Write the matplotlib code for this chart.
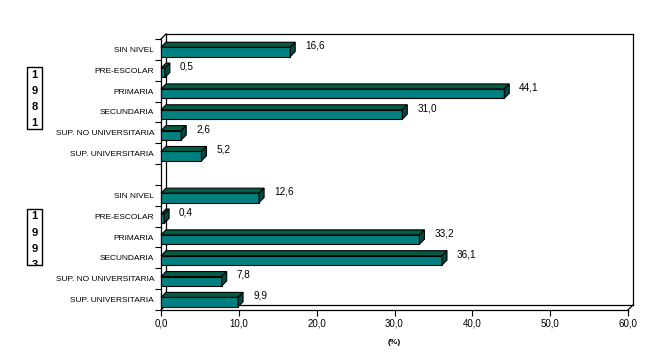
import matplotlib
matplotlib.use("Agg")
import matplotlib.pyplot as plt
from matplotlib.patches import Polygon, Rectangle
from matplotlib.lines import Line2D

categories = ["SIN NIVEL", "PRE-ESCOLAR", "PRIMARIA", "SECUNDARIA",
              "SUP. NO UNIVERSITARIA", "SUP. UNIVERSITARIA"]
years = ["1981", "1993"]
values_1981 = [16.6, 0.5, 44.1, 31.0, 2.6, 5.2]
values_1993 = [12.6, 0.4, 33.2, 36.1, 7.8, 9.9]
x_ticks = [0, 10, 20, 30, 40, 50, 60]
x_label = "(%)"

W, H = 658, 357
fig = plt.figure(figsize=(W / 100, H / 100), dpi=100)
plt.rcParams['font.family'] = ['Liberation Sans', 'DejaVu Sans']

def fx(x):
    return x / W

def fy(y):
    return 1 - y / H

# front plane of the axes in pixels
L, R, T, B = 161, 628, 39, 310
ax = fig.add_axes([fx(L), fy(B), fx(R) - fx(L), fy(T) - fy(B)])
nslots = 13
ax.set_xlim(0, 60)
ax.set_ylim(nslots - 0.5, -0.5)
for s in ax.spines.values():
    s.set_visible(False)

px_x = (R - L) / 60.0
px_y = (B - T) / nslots
DPX = 5
dx = DPX / px_x
dy = DPX / px_y

front = "#008080"
topc = "#005c44"
sidec = "#004a40"

slots, labels, vals = [], [], []
for i, v in enumerate(values_1981):
    slots.append(i); labels.append(categories[i]); vals.append(v)
for i, v in enumerate(values_1993):
    slots.append(7 + i); labels.append(categories[i]); vals.append(v)

bh = 0.45
for s, v in zip(slots, vals):
    yc = s + 0.12
    y0, y1 = yc - bh / 2, yc + bh / 2  # y0 is upper edge (inverted axis)
    ax.add_patch(Rectangle((0, y0), v, bh, facecolor=front, edgecolor="black",
                           lw=0.8, clip_on=False, zorder=3))
    ax.add_patch(Polygon([(0, y0), (v, y0), (v + dx, y0 - dy), (dx, y0 - dy)],
                         closed=True, facecolor=topc, edgecolor="black",
                         lw=0.8, clip_on=False, zorder=3))
    ax.add_patch(Polygon([(v, y0), (v + dx, y0 - dy), (v + dx, y1 - dy), (v, y1)],
                         closed=True, facecolor=sidec, edgecolor="black",
                         lw=0.8, clip_on=False, zorder=3))
    ax.text(v + 15 / px_x, yc - 0.3, f"{v:.1f}".replace(".", ","),
            fontsize=7.2, ha="left", va="center", zorder=4)

# frame: back wall, floor, left wall
ymin, ymax = -0.5, nslots - 0.5
kw = dict(color="black", lw=0.9, clip_on=False, zorder=2)
ax.add_line(Line2D([dx, dx], [ymin - dy, ymax - dy], **kw))
ax.add_line(Line2D([dx, 60 + dx], [ymin - dy, ymin - dy], **kw))
ax.add_line(Line2D([60 + dx, 60 + dx], [ymin - dy, ymax - dy], **kw))
ax.add_line(Line2D([dx, 60 + dx], [ymax - dy, ymax - dy], **kw))
ax.add_line(Line2D([0, 0], [ymin, ymax], **kw))
ax.add_line(Line2D([0, 60], [ymax, ymax], **kw))
ax.add_line(Line2D([0, dx], [ymin, ymin - dy], **kw))
ax.add_line(Line2D([0, dx], [ymax, ymax - dy], **kw))
ax.add_line(Line2D([60, 60 + dx], [ymax, ymax - dy], **kw))

ax.set_xticks(x_ticks)
ax.set_xticklabels([f"{t:.1f}".replace(".", ",") for t in x_ticks], fontsize=7)
ax.tick_params(axis="x", direction="out", length=4, width=0.8, pad=2)
ax.set_yticks(slots)
ax.set_yticklabels(labels, fontsize=6)
ax.tick_params(axis="y", length=0, pad=5)
ax.set_yticks([k - 0.5 for k in range(nslots + 1)], minor=True)
ax.tick_params(axis="y", which="minor", direction="out", length=4, width=0.8)
ax.set_xlabel(x_label, fontsize=6, fontweight="bold", labelpad=8)

# year boxes
boxes = [(27, 67, 15, 62), (27, 209, 15, 56)]
for yr, (bx, by, bw, bhh) in zip(years, boxes):
    rect = Rectangle((fx(bx), fy(by + bhh)), fx(bw), fy(by) - fy(by + bhh),
                     transform=fig.transFigure, facecolor="white",
                     edgecolor="black", lw=1.0)
    fig.patches.append(rect)
    for k, ch in enumerate(yr):
        t = fig.text(fx(bx + bw / 2), fy(by + 7.5 + 16.2 * k), ch, fontsize=8,
                     fontweight="bold", ha="center", va="center")
        t.set_clip_on(True)
        t.set_clip_path(rect)

fig.savefig("out.png", dpi=100)
